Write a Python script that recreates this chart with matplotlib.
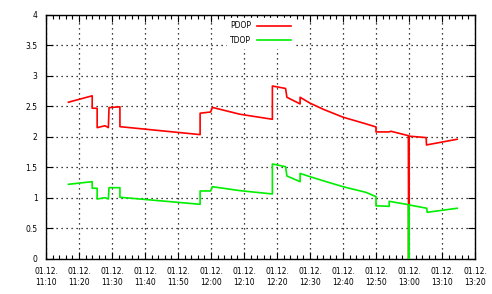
import matplotlib
matplotlib.use("Agg")
import matplotlib.pyplot as plt
from matplotlib.ticker import MultipleLocator, FixedLocator

# time in minutes after 11:10 on 01.12.
pdop_t = [6.8, 14.0, 14.0, 15.5, 15.5, 17.9, 18.9, 19.1, 22.4, 22.4, 46.7, 46.7, 49.9, 50.4,
          58.8, 68.6, 68.6, 72.6, 73.0, 77.0, 77.0, 80.0, 84.0, 90.0, 97.0, 100.0, 100.0, 104.0, 104.5,
          109.8, 109.9, 110.0, 115.2, 115.3, 124.6]
pdop_v = [2.565, 2.67, 2.466, 2.466, 2.149, 2.18, 2.149, 2.477, 2.49, 2.165, 2.035, 2.385, 2.405, 2.48,
          2.368, 2.286, 2.83, 2.79, 2.646, 2.537, 2.646, 2.55, 2.45, 2.32, 2.21, 2.16, 2.079, 2.079, 2.09,
          2.018, 0.0, 2.01, 1.986, 1.866, 1.959]

tdop_t = [6.8, 14.0, 14.0, 15.5, 15.5, 17.9, 18.9, 19.1, 22.4, 22.4, 46.7, 46.7, 49.9, 50.4,
          58.8, 68.6, 68.6, 72.6, 73.0, 77.0, 77.0, 80.0, 84.0, 90.0, 97.0, 100.0, 100.0, 104.0, 104.0,
          109.8, 109.9, 110.0, 115.4, 115.5, 124.6]
tdop_v = [1.222, 1.265, 1.157, 1.157, 0.982, 1.003, 0.982, 1.167, 1.167, 1.01, 0.895, 1.113, 1.113, 1.183,
          1.118, 1.064, 1.555, 1.51, 1.358, 1.265, 1.40, 1.347, 1.28, 1.183, 1.09, 1.02, 0.87, 0.862, 0.944,
          0.889, 0.0, 0.885, 0.83, 0.764, 0.83]

tick_minutes = [0, 10, 20, 30, 40, 50, 60, 70, 80, 90, 100, 110, 120, 130]
tick_labels = ["01.12.\n11:10", "01.12.\n11:20", "01.12.\n11:30", "01.12.\n11:40", "01.12.\n11:50",
               "01.12.\n12:00", "01.12.\n12:10", "01.12.\n12:20", "01.12.\n12:30", "01.12.\n12:40",
               "01.12.\n12:50", "01.12.\n13:00", "01.12.\n13:10", "01.12.\n13:20"]
y_ticks = [0, 0.5, 1, 1.5, 2, 2.5, 3, 3.5, 4]
y_labels = ["0", "0.5", "1", "1.5", "2", "2.5", "3", "3.5", "4"]

plt.rcParams['font.family'] = ['DejaVu Sans']
fig = plt.figure(figsize=(4.92, 2.94), dpi=100)
ax = fig.add_axes([46/492, 1 - 259/294, (475-46)/492, (259-14.5)/294])

ax.plot(pdop_t, pdop_v, color="#ff0000", lw=1.2, label="PDOP", zorder=3)
ax.plot(tdop_t, tdop_v, color="#00ee00", lw=1.2, label="TDOP", zorder=4)

ax.set_xlim(0, 130)
ax.set_ylim(0, 4)
ax.xaxis.set_major_locator(FixedLocator(tick_minutes))
ax.set_xticklabels(tick_labels)
ax.xaxis.set_minor_locator(MultipleLocator(2))
ax.set_yticks(y_ticks)
ax.set_yticklabels(y_labels)

ax.grid(True, which="major", color="black", linestyle=(0, (1, 3)), linewidth=0.9)
ax.tick_params(which="both", direction="in", top=True, right=True, labelsize=5.5, pad=6)
ax.tick_params(which="major", length=5, width=0.8)
ax.tick_params(which="minor", length=3, width=0.8)
ax.tick_params(axis="y", which="minor", left=False, right=False)
for s in ax.spines.values():
    s.set_linewidth(1.0)

leg = ax.legend(loc="upper left", bbox_to_anchor=((223-46)/429, 1.0), frameon=True, fontsize=5.5,
                markerfirst=False, handlelength=4.5, borderaxespad=0.5, labelspacing=0.75,
                handletextpad=0.8)
leg.get_frame().set_edgecolor("white")
leg.get_frame().set_facecolor("white")
leg.get_frame().set_alpha(1)
leg.get_frame().set_boxstyle("square", pad=0)
for t in leg.get_texts():
    t.set_ha("right")

fig.savefig("out.png", dpi=100)
